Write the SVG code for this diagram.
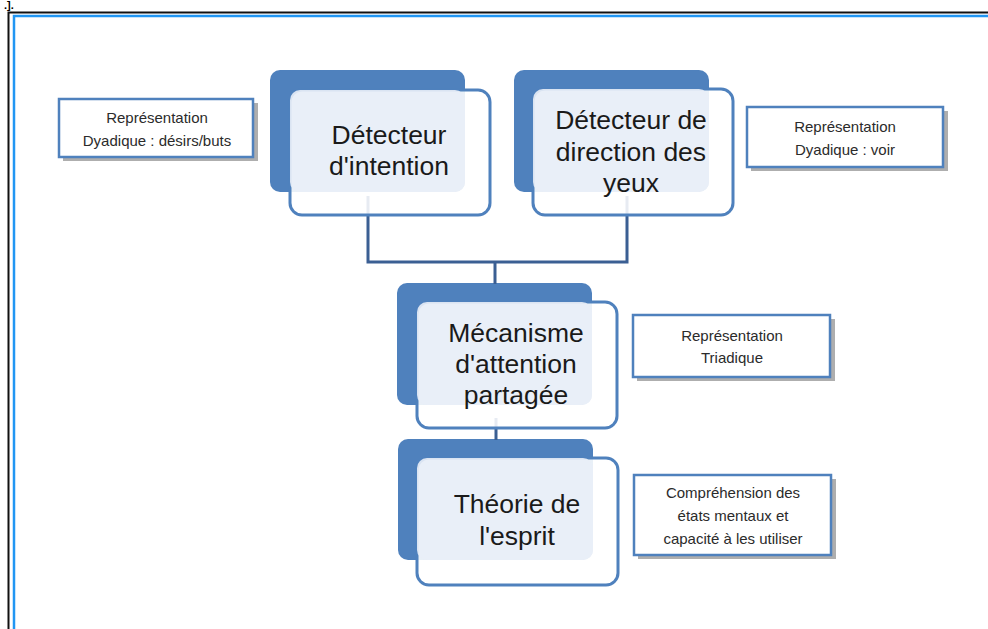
<svg xmlns="http://www.w3.org/2000/svg" width="988" height="629" viewBox="0 0 988 629">
<style>
.back{fill:#4f81bd}
.front{fill:#ffffff;fill-opacity:0.88;stroke:#4f81bd;stroke-width:3}
.tint{fill:#e9eef7;fill-opacity:0.9}
.big{font-family:"Liberation Sans","DejaVu Sans",sans-serif;font-size:26.5px;fill:#1a1a1a;text-anchor:middle}
.note{fill:#ffffff;stroke:#4f81bd;stroke-width:2.5}
.shadow{fill:#8c8c8c;opacity:0.7}
.small{font-family:"Liberation Sans","DejaVu Sans",sans-serif;font-size:15px;fill:#2b2b2b;text-anchor:middle}
.conn{fill:none;stroke:#3b5f93;stroke-width:3}
</style>
<rect width="988" height="629" fill="#ffffff"/>
<text x="4" y="9" font-family="Liberation Sans, sans-serif" font-size="11" font-weight="bold" fill="#000">.].</text>
<g id="frame">
<path d="M8.5 629 V12.5 H988" fill="none" stroke="#111" stroke-width="2"/>
<path d="M14 629 V16 H988" fill="none" stroke="#2196f3" stroke-width="2.5"/>
</g>
<g id="node1">
<rect class="back" x="270" y="70" width="195" height="122" rx="10"/>
</g>
<g id="node2">
<rect class="back" x="514" y="70" width="195" height="122" rx="10"/>
</g>
<g id="node3">
<rect class="back" x="397" y="283" width="195" height="122" rx="10"/>
</g>
<g id="node4">
<rect class="back" x="398" y="439" width="195" height="121" rx="10"/>
</g>
<g id="connectors">
<path class="conn" d="M368 196 V262 H627 V196"/>
<path class="conn" d="M495 262 V284"/>
<path class="conn" d="M496 418 V440"/>
</g>
<g id="node1-front">
<rect class="front" x="290" y="90" width="200" height="125" rx="12"/>
<rect class="tint" x="290" y="90" width="175" height="102" rx="10"/>
<text class="big" x="389" y="144">Détecteur</text>
<text class="big" x="389" y="175">d'intention</text>
</g>
<g id="node2-front">
<rect class="front" x="533" y="89" width="200" height="126" rx="12"/>
<rect class="tint" x="533" y="89" width="176" height="103" rx="10"/>
<text class="big" x="631" y="129">Détecteur de</text>
<text class="big" x="631" y="161">direction des</text>
<text class="big" x="631" y="192">yeux</text>
</g>
<g id="node3-front">
<rect class="front" x="417" y="302" width="200" height="126" rx="12"/>
<rect class="tint" x="417" y="302" width="175" height="103" rx="10"/>
<text class="big" x="516" y="342">Mécanisme</text>
<text class="big" x="516" y="373">d'attention</text>
<text class="big" x="516" y="404">partagée</text>
</g>
<g id="node4-front">
<rect class="front" x="417" y="458" width="201" height="127" rx="12"/>
<rect class="tint" x="417" y="458" width="176" height="102" rx="10"/>
<text class="big" x="517" y="513">Théorie de</text>
<text class="big" x="517" y="545">l'esprit</text>
</g>
<g id="note1">
<rect class="shadow" x="63" y="103" width="195" height="58"/>
<rect class="note" x="59" y="99" width="194" height="58"/>
<text class="small" x="157" y="123">Représentation</text>
<text class="small" x="157" y="146">Dyadique : désirs/buts</text>
</g>
<g id="note2">
<rect class="shadow" x="751" y="111" width="197" height="60"/>
<rect class="note" x="747" y="107" width="196" height="60"/>
<text class="small" x="845" y="132">Représentation</text>
<text class="small" x="845" y="155">Dyadique : voir</text>
</g>
<g id="note3">
<rect class="shadow" x="637" y="319" width="198" height="62"/>
<rect class="note" x="633" y="315" width="197" height="62"/>
<text class="small" x="732" y="341">Représentation</text>
<text class="small" x="732" y="363">Triadique</text>
</g>
<g id="note4">
<rect class="shadow" x="638" y="479" width="198" height="80"/>
<rect class="note" x="634" y="475" width="197" height="80"/>
<text class="small" x="733" y="498">Compréhension des</text>
<text class="small" x="733" y="521">états mentaux et</text>
<text class="small" x="733" y="544">capacité à les utiliser</text>
</g>
</svg>
